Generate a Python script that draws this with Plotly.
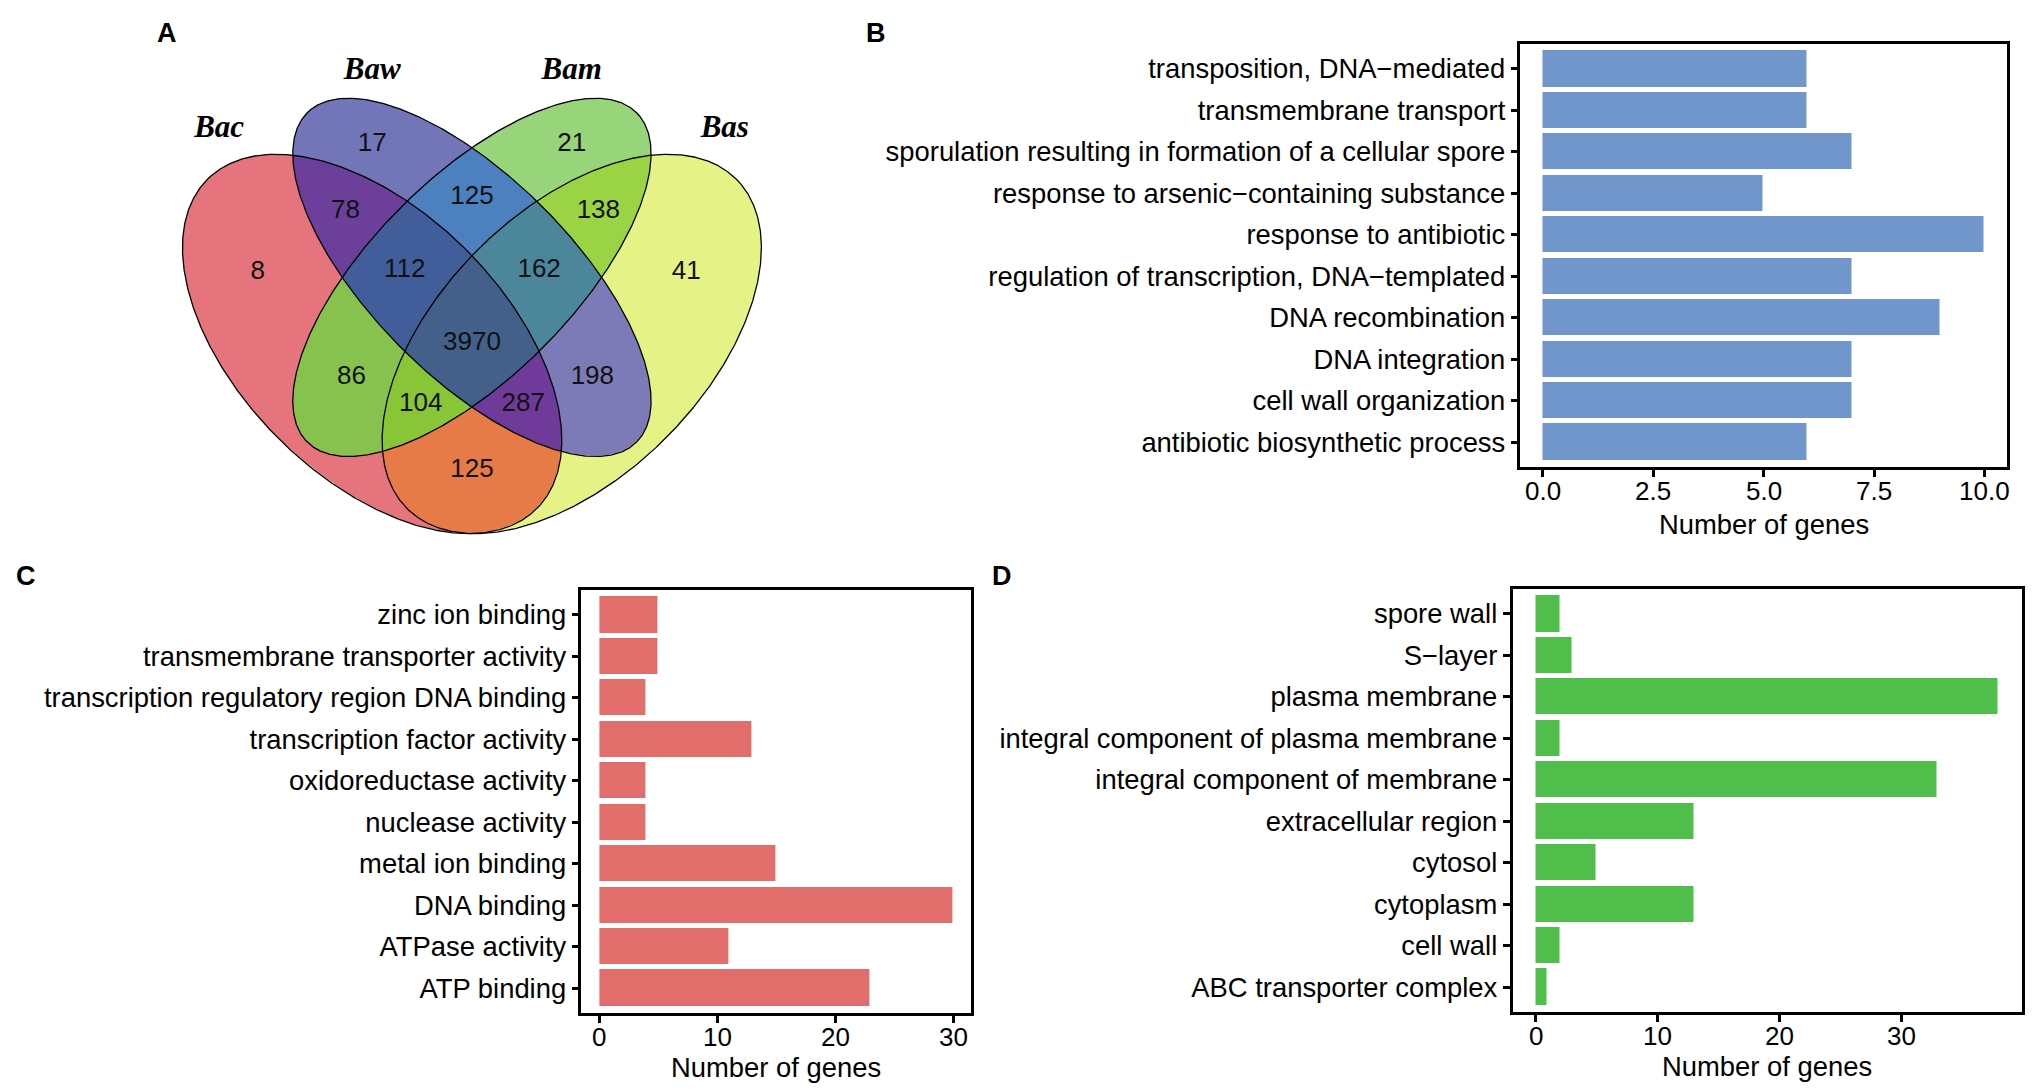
import base64, struct, zlib
import numpy as np
import plotly.graph_objects as go

W, H = 2033, 1092          # reference canvas
OFF = 8                    # browser body margin
FW, FH = W - 2 * OFF, H - 2 * OFF
FONT = "Liberation Sans, Arial, sans-serif"

def fx(p):  # reference pixel x -> paper fraction
    return (p - OFF) / FW

def fy(p):  # reference pixel y -> paper fraction
    return 1 - (p - OFF) / FH

# ---------------- data ----------------
venn_sets = ["Bac", "Baw", "Bam", "Bas"]
# region membership (Bac, Baw, Bam, Bas) and gene counts
venn_regions = ["1000", "0100", "0010", "0001", "1100", "0110", "0011",
                "1110", "0111", "1111", "1010", "0101", "1011", "1101", "1001"]
venn_counts = [8, 17, 21, 41, 78, 125, 138, 112, 162, 3970, 86, 198, 104, 287, 125]

b_terms = ["transposition, DNA\u2212mediated", "transmembrane transport",
           "sporulation resulting in formation of a cellular spore",
           "response to arsenic\u2212containing substance", "response to antibiotic",
           "regulation of transcription, DNA\u2212templated", "DNA recombination",
           "DNA integration", "cell wall organization", "antibiotic biosynthetic process"]
b_counts = [6, 6, 7, 5, 10, 7, 9, 7, 7, 6]

c_terms = ["zinc ion binding", "transmembrane transporter activity",
           "transcription regulatory region DNA binding", "transcription factor activity",
           "oxidoreductase activity", "nuclease activity", "metal ion binding",
           "DNA binding", "ATPase activity", "ATP binding"]
c_counts = [5, 5, 4, 13, 4, 4, 15, 30, 11, 23]

d_terms = ["spore wall", "S\u2212layer", "plasma membrane",
           "integral component of plasma membrane", "integral component of membrane",
           "extracellular region", "cytosol", "cytoplasm", "cell wall",
           "ABC transporter complex"]
d_counts = [2, 3, 38, 2, 33, 13, 5, 13, 2, 1]

# ---------------- venn layout (npc units, VennDiagram quad layout) ----------------
ellipses = [  # cx, cy, a, b, rotation
    (0.35, 0.47, 0.35, 0.20, 135),
    (0.50, 0.57, 0.35, 0.15, 135),
    (0.50, 0.57, 0.35, 0.15, 45),
    (0.65, 0.47, 0.35, 0.20, 45),
]
region_colors = {
    "1000": (229, 116, 124), "0100": (114, 118, 185), "0010": (152, 212, 121),
    "0001": (229, 242, 134), "1100": (108, 64, 154), "0110": (76, 128, 190),
    "0011": (154, 212, 68), "1110": (65, 94, 155), "0111": (75, 134, 154),
    "1111": (67, 96, 138), "1010": (135, 194, 79), "0101": (125, 122, 184),
    "1011": (136, 198, 56), "1101": (112, 58, 154), "1001": (230, 123, 71),
}
label_pos = {
    "1000": (0.178, 0.578), "0100": (0.350, 0.770), "0010": (0.650, 0.770),
    "0001": (0.822, 0.578), "1100": (0.310, 0.669), "0110": (0.500, 0.690),
    "0011": (0.690, 0.669), "1110": (0.399, 0.580), "0111": (0.601, 0.580),
    "1111": (0.500, 0.470), "1010": (0.319, 0.419), "0101": (0.681, 0.419),
    "1011": (0.423, 0.379), "1101": (0.577, 0.379), "1001": (0.500, 0.280),
}
set_label_pos = [(0.120, 0.792), (0.350, 0.880), (0.650, 0.880), (0.880, 0.792)]

# npc -> reference pixel mapping of the venn viewport
VX0, VY0, VS = 139.4, 657.0, 666.0
def px(x, y):
    return VX0 + VS * np.asarray(x), VY0 - VS * np.asarray(y)

# venn panel pixel box (reference pixels)
PX0, PX1, PY0, PY1 = 130, 820, 15, 560

def inside(e, x, y):
    cx, cy, a, b, rot = e
    t = np.deg2rad(rot)
    dx, dy = x - cx, y - cy
    u = dx * np.cos(t) + dy * np.sin(t)
    v = -dx * np.sin(t) + dy * np.cos(t)
    return (u / a) ** 2 + (v / b) ** 2 <= 1.0

# rasterize region colours with supersampling (RGBA, transparent outside)
SS = 3
w, h = PX1 - PX0, PY1 - PY0
xs = PX0 + (np.arange(w * SS) + 0.5) / SS
ys = PY0 + (np.arange(h * SS) + 0.5) / SS
XX, YY = np.meshgrid(xs, ys)
NX = (XX - VX0) / VS
NY = (VY0 - YY) / VS
masks = [inside(e, NX, NY) for e in ellipses]
img = np.zeros(XX.shape + (4,))
for key, col in region_colors.items():
    m = np.ones(XX.shape, bool)
    for k, ch in enumerate(key):
        m &= masks[k] if ch == "1" else ~masks[k]
    img[m, :3] = col
    img[m, 3] = 255
img = img.reshape(h, SS, w, SS, 4)
alpha = img[..., 3].mean(axis=(1, 3))
rgb = (img[..., :3] * (img[..., 3:] / 255.0)).sum(axis=(1, 3)) / np.maximum(
    (img[..., 3] / 255.0).sum(axis=(1, 3)), 1e-9)[..., None]
out = np.dstack([rgb, alpha]).round().clip(0, 255).astype(np.uint8)

def png_uri(rgba):
    hh, ww, _ = rgba.shape
    raw = b"".join(b"\x00" + rgba[i].tobytes() for i in range(hh))
    def chunk(t, d):
        return struct.pack(">I", len(d)) + t + d + struct.pack(">I", zlib.crc32(t + d) & 0xFFFFFFFF)
    png = (b"\x89PNG\r\n\x1a\n" + chunk(b"IHDR", struct.pack(">IIBBBBB", ww, hh, 8, 6, 0, 0, 0))
           + chunk(b"IDAT", zlib.compress(raw, 9)) + chunk(b"IEND", b""))
    return "data:image/png;base64," + base64.b64encode(png).decode()

fig = go.Figure()

fig.add_trace(go.Image(source=png_uri(out), x0=PX0 + 0.5, y0=PY0 + 0.5, dx=1, dy=1,
                       xaxis="x4", yaxis="y4", hoverinfo="skip"))

theta = np.linspace(0, 2 * np.pi, 721)
for (cx, cy, a, b, rot) in ellipses:
    t = np.deg2rad(rot)
    ex = cx + a * np.cos(theta) * np.cos(t) - b * np.sin(theta) * np.sin(t)
    ey = cy + a * np.cos(theta) * np.sin(t) + b * np.sin(theta) * np.cos(t)
    X, Y = px(ex, ey)
    fig.add_trace(go.Scatter(x=X, y=Y, mode="lines", line=dict(color="black", width=1.3),
                             xaxis="x4", yaxis="y4", hoverinfo="skip", showlegend=False))

lx, ly = px([label_pos[r][0] for r in venn_regions], [label_pos[r][1] for r in venn_regions])
fig.add_trace(go.Scatter(x=lx, y=ly, mode="text", text=[str(c) for c in venn_counts],
                         textfont=dict(family=FONT, size=26, color="#111111"),
                         xaxis="x4", yaxis="y4", hoverinfo="skip", showlegend=False))
sx, sy = px([p[0] for p in set_label_pos], [p[1] for p in set_label_pos])
fig.add_trace(go.Scatter(x=sx, y=sy, mode="text", text=["<b><i>%s</i></b>" % s for s in venn_sets],
                         textfont=dict(family="Liberation Serif, Times New Roman, serif", size=31, color="black"),
                         xaxis="x4", yaxis="y4", hoverinfo="skip", showlegend=False))

# ---------------- bar panels ----------------
panels = [
    ("x", "y", b_terms, b_counts, "#7096CC", (1522, 2009, 44, 467), [-0.5, 10.5],
     [0, 2.5, 5, 7.5, 10], ["0.0", "2.5", "5.0", "7.5", "10.0"], 57),
    ("x2", "y2", c_terms, c_counts, "#E16E6A", (582, 972, 590, 1013), [-1.5, 31.5],
     [0, 10, 20, 30], ["0", "10", "20", "30"], 54),
    ("x3", "y3", d_terms, d_counts, "#50BE4A", (1514, 2024, 589, 1012), [-1.9, 39.9],
     [0, 10, 20, 30], ["0", "10", "20", "30"], 54),
]

layout_axes = {}
annotations = []
for xa, ya, terms, counts, color, (x0, x1, y0, y1), xr, tv, tt, tdy in panels:
    fig.add_trace(go.Bar(x=counts, y=terms, orientation="h", width=0.9,
                         marker=dict(color=color, line=dict(color="white", width=1)),
                         xaxis=xa, yaxis=ya, showlegend=False))
    xn = "xaxis" + xa[1:]
    yn = "yaxis" + ya[1:]
    layout_axes[xn] = dict(domain=[fx(x0), fx(x1)], range=xr, anchor=ya, tickvals=tv,
                           showticklabels=False,
                           showline=True, linewidth=2.5, linecolor="black", mirror=True,
                           ticks="outside", ticklen=7, tickwidth=2.5, tickcolor="black",
                           showgrid=False, zeroline=False)
    layout_axes[yn] = dict(domain=[fy(y1), fy(y0)], type="category",
                           categoryorder="array", categoryarray=terms,
                           range=[len(terms) - 0.4, -0.6], anchor=xa,
                           showline=True, linewidth=2.5, linecolor="black", mirror=True,
                           ticks="outside", ticklen=7, tickwidth=2.5, tickcolor="black",
                           showgrid=False, zeroline=False,
                           tickfont=dict(family=FONT, size=27.4, color="black"))
    for v, s in zip(tv, tt):
        annotations.append(dict(text=s, x=v, xref=xa, y=fy(y1 + 24), yref="paper",
                                showarrow=False, xanchor="center", yanchor="middle",
                                font=dict(family=FONT, size=26, color="black")))
    annotations.append(dict(text="Number of genes", x=fx((x0 + x1) / 2),
                            y=fy(y1 + tdy), xref="paper", yref="paper",
                            showarrow=False, xanchor="center", yanchor="middle",
                            font=dict(family=FONT, size=27.4, color="black")))

layout_axes["xaxis4"] = dict(domain=[fx(PX0), fx(PX1)], range=[PX0, PX1], anchor="y4",
                             visible=False, showgrid=False, zeroline=False)
layout_axes["yaxis4"] = dict(domain=[fy(PY1), fy(PY0)], range=[PY1, PY0], anchor="x4",
                             visible=False, showgrid=False, zeroline=False)

for letter, (lxp, lyp) in zip("ABCD", [(167, 33), (877, 33), (26, 576), (1003, 576)]):
    annotations.append(dict(text="<b>%s</b>" % letter, x=fx(lxp), y=fy(lyp),
                            xref="paper", yref="paper", showarrow=False,
                            xanchor="center", yanchor="middle",
                            font=dict(family=FONT, size=27, color="black")))

fig.update_layout(width=FW, height=FH, margin=dict(l=0, r=0, t=0, b=0),
                  paper_bgcolor="white", plot_bgcolor="white", showlegend=False,
                  annotations=annotations, bargap=0, **layout_axes)

fig.write_html("out.html")
